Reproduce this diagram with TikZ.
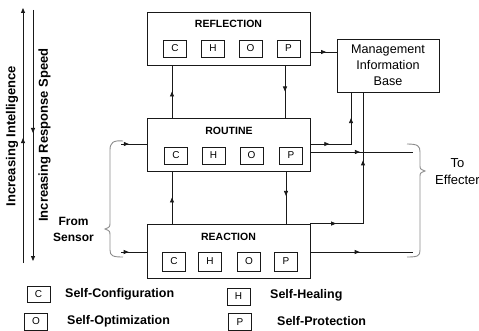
\documentclass[tikz,border=0pt]{standalone}
\usepackage{fontspec}
\setmainfont{Liberation Sans}
\usetikzlibrary{arrows.meta,decorations.markings}
\tikzset{
  ln/.style={draw=black!90, line width=0.8pt},
  mk/.style={postaction={decorate}, decoration={markings,
      mark=at position #1 with {\arrow{Triangle[length=5pt,width=4pt]}}}},
  mktwo/.style 2 args={postaction={decorate}, decoration={markings,
      mark=at position #1 with {\arrow{Triangle[length=5pt,width=4pt]}},
      mark=at position #2 with {\arrow{Triangle[length=5pt,width=4pt]}}}},
  bigbox/.style={draw=black!90, line width=0.9pt, minimum width=163pt, minimum height=53pt, inner sep=0pt},
  sbox/.style={draw=black!90, line width=0.8pt, minimum width=23pt, minimum height=17pt, inner sep=0pt,
      font=\fontsize{10}{10}\selectfont},
  lbox/.style={sbox, minimum height=16pt},
  ttl/.style={font=\bfseries\fontsize{10.5}{12}\selectfont, inner sep=0pt},
  mibbox/.style={draw=black!90, line width=0.9pt, minimum width=102pt, minimum height=53pt, inner sep=0pt,
      align=center, font=\fontsize{12.6}{16}\selectfont},
  brc/.style={draw=black!45, line width=0.9pt},
  side/.style={font=\bfseries\fontsize{13}{13}\selectfont, inner sep=0pt, rotate=90},
  leg/.style={font=\bfseries\fontsize{12.5}{13}\selectfont, inner sep=0pt, anchor=west},
}
\begin{document}
\begin{tikzpicture}[x=1pt,y=-1pt]
\useasboundingbox (0,0) rectangle (479,331);

% main boxes
\node[bigbox] (refl) at (228.5,38.5) {};
\node[ttl] (reflT) at (228.5,24) {REFLECTION};
\node[sbox] (rfC) at (175,48.5) {C};
\node[sbox] (rfH) at (213,48.5) {H};
\node[sbox] (rfO) at (250.5,48.5) {O};
\node[sbox] (rfP) at (288.5,48.5) {P};

\node[bigbox] (rout) at (229,144.5) {};
\node[ttl] (routT) at (229,131) {ROUTINE};
\node[sbox] (roC) at (176,155.5) {C};
\node[sbox] (roH) at (213.5,155.5) {H};
\node[sbox] (roO) at (251.5,155.5) {O};
\node[sbox] (roP) at (291,155.5) {P};

\node[bigbox, minimum height=54pt] (reac) at (228.5,251) {};
\node[ttl] (reacT) at (228.5,237) {REACTION};
\node[sbox, minimum height=19pt] (reC) at (174,261.5) {C};
\node[sbox, minimum height=19pt] (reH) at (210,261.5) {H};
\node[sbox, minimum height=19pt] (reO) at (249,261.5) {O};
\node[sbox, minimum height=19pt] (reP) at (286,261.5) {P};

\node[mibbox] (mib) at (388,65.5) {Management\\Information\\Base};

% vertical connectors between layers
\draw[ln,mk=0.5] (rout.north -| 172,0) -- (refl.south -| 172,0);
\draw[ln,mk=0.5] (refl.south -| 285,0) -- (rout.north -| 285,0);
\draw[ln,mk=0.5] (reac.north -| 172,0) -- (rout.south -| 172,0);
\draw[ln,mk=0.47] (rout.south -| 286,0) -- (reac.north -| 286,0);

% to MIB
\draw[ln,mk=0.6] (refl.east |- 0,52) -- (mib.west |- 0,52);
\draw[ln,mktwo={0.2}{0.72}] (rout.east |- 0,144) -| (mib.south -| 351,0);
\draw[ln,mktwo={0.14}{0.63}] (reac.north east) -| (mib.south -| 363,0);

% to effecter
\coordinate (eff1) at (413,152);
\coordinate (eff2) at (413,252);
\draw[ln,mk=0.48] (rout.east |- eff1) -- (eff1);
\draw[ln,mk=0.48] (reac.east |- eff2) -- (eff2);

% from sensor
\coordinate (sen1) at (121,144);
\coordinate (sen2) at (121,252);
\draw[ln,mk=0.3] (sen1) -- (rout.west |- sen1);
\draw[ln,mk=0.3] (sen2) -- (reac.west |- sen2);

% braces
\draw[brc] (123,141) .. controls (113,140) and (110,143) .. (110,150) -- (110,222)
  .. controls (110,227) .. (105,229) .. controls (110,231) .. (110,236) -- (110,250)
  .. controls (110,256) and (113,257) .. (123,257);
\draw[brc] (407,144) .. controls (418,144) and (420,146) .. (420,152) -- (420,165)
  .. controls (420,169) .. (425,171) .. controls (420,173) .. (420,177) -- (420,250)
  .. controls (420,256) and (418,257) .. (407,257);

\node[align=center, font=\bfseries\fontsize{12}{16}\selectfont, inner sep=0pt] (sensor) at (73.5,229)
  {From\\Sensor};
\node[align=center, font=\fontsize{13}{17}\selectfont, inner sep=0pt] (effecter) at (457.5,171.5)
  {To\\Effecter};

% side arrows
\coordinate (intB) at (23,263);
\coordinate (intT) at (23,8);
\draw[ln,mk=0.49,-{Triangle[length=5pt,width=4pt]}] (intB) -- (intT);
\coordinate (spdT) at (33,10);
\coordinate (spdB) at (33,261);
\draw[ln,mk=0.49,-{Triangle[length=5pt,width=4pt]}] (spdT) -- (spdB);
\node[side] (intel) at (12,136) {Increasing Intelligence};
\node[side] (speed) at (44.5,135) {Increasing Response Speed};

% legend
\node[lbox] (lgC) at (38.5,294.5) {C};
\node[leg] (lgCt) at (65,294) {Self-Configuration};
\node[lbox, minimum height=17pt] (lgH) at (238.5,296.5) {H};
\node[leg] (lgHt) at (270,295.5) {Self-Healing};
\node[lbox, minimum height=17pt] (lgO) at (36,321.5) {O};
\node[leg] (lgOt) at (67,321) {Self-Optimization};
\node[lbox, minimum height=17pt] (lgP) at (240,322) {P};
\node[leg] (lgPt) at (277,321) {Self-Protection};
\end{tikzpicture}
\end{document}
